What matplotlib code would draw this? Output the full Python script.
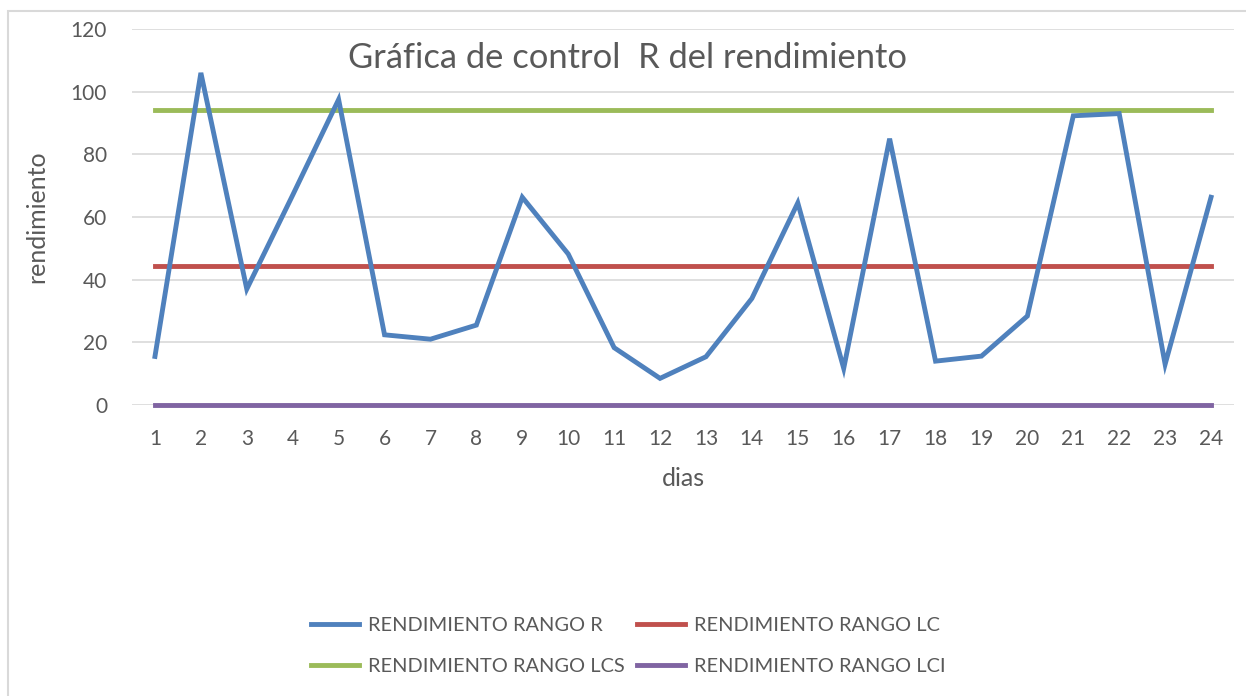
import numpy as np
import matplotlib
matplotlib.use("Agg")
import matplotlib.pyplot as plt
from matplotlib.patches import Rectangle

# datos
dias = list(range(1, 25))
rango_r = [15.5, 106, 37, 67, 97.5, 22.4, 21, 25.5, 66.3, 48.2, 18.3, 8.5,
           15.4, 34, 64.5, 11.7, 85, 14, 15.6, 28.4, 92.3, 93, 13, 66.3]
rango_lc = [44.4] * 24
rango_lcs = [94] * 24
rango_lci = [0] * 24

nombres = ["RENDIMIENTO RANGO R", "RENDIMIENTO RANGO LC",
           "RENDIMIENTO RANGO LCS", "RENDIMIENTO RANGO LCI"]
colores = ["#4F81BD", "#C0504D", "#9BBB59", "#8064A2"]
texto = "#595959"

plt.rcParams['font.family'] = ['Lato', 'DejaVu Sans']

fig = plt.figure(figsize=(12.46, 6.96), dpi=100)
ax = fig.add_axes([132 / 1246, 1 - 405 / 696, (1234 - 132) / 1246, (405 - 29) / 696])

# borde exterior del grafico
fig.patches.append(Rectangle((8 / 1246, -0.05), 1.2, 1 - 11 / 696 + 0.05,
                             transform=fig.transFigure, fill=False,
                             edgecolor="#D9D9D9", linewidth=1.5))

lw = 3.5
l_r, = ax.plot(dias, rango_r, color=colores[0], lw=lw, solid_joinstyle='miter', zorder=4)
l_lc, = ax.plot(dias, rango_lc, color=colores[1], lw=lw, zorder=3)
l_lcs, = ax.plot(dias, rango_lcs, color=colores[2], lw=lw, zorder=3)
l_lci, = ax.plot(dias, rango_lci, color=colores[3], lw=lw, zorder=3, clip_on=False)

ax.set_xlim(0.5, 24.5)
ax.set_ylim(0, 120)
ax.set_yticks(range(0, 121, 20))
ax.set_xticks(dias)
ax.yaxis.grid(True, color="#D9D9D9", lw=1.2)
ax.set_axisbelow(True)
for s in ax.spines.values():
    s.set_visible(False)
ax.tick_params(length=0, labelsize=15, colors=texto)
ax.tick_params(axis='x', pad=17)
ax.tick_params(axis='y', pad=18)

ax.set_xlabel("dias", fontsize=18, color=texto, labelpad=13)
ax.set_ylabel("rendimiento", fontsize=18, color=texto, labelpad=16)
fig.text(627 / 1246, 1 - 58 / 696, "Gráfica de control  R del rendimiento",
         ha='center', va='center', fontsize=24.8, color=texto)

fig.legend([l_r, l_lcs, l_lc, l_lci], [nombres[0], nombres[2], nombres[1], nombres[3]],
           ncol=2, loc='center', bbox_to_anchor=(628 / 1246, 1 - 646 / 696),
           frameon=False, fontsize=14.4, labelcolor=texto, handlelength=2.4,
           columnspacing=0.6, handletextpad=0.45, labelspacing=1.2)

fig.savefig("out.png", dpi=100)
